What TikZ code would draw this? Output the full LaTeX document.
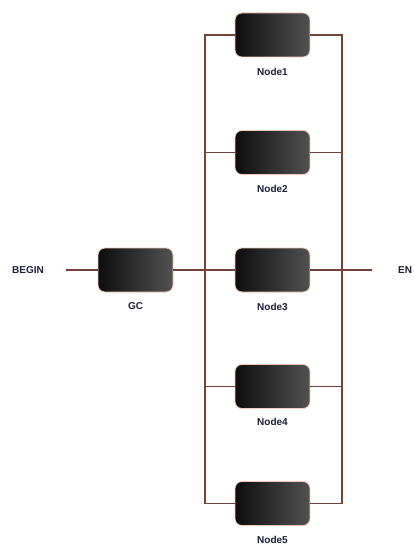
\documentclass[tikz,border=0pt]{standalone}
\usepackage{fontspec}
\setmainfont{Liberation Sans}
\usetikzlibrary{calc}
\definecolor{wire}{HTML}{72413A}
\definecolor{halo}{HTML}{F2C9BA}
\definecolor{labelc}{HTML}{1E1E34}
\tikzset{
  block/.style={rounded corners=7pt, minimum width=75pt, minimum height=44pt,
    inner sep=0pt, draw=halo, line width=0.8pt,
    left color=black!95, right color=black!68},
  caption/.style={font=\bfseries\fontsize{10}{12}\selectfont, text=labelc, inner sep=1pt},
  wireline/.style={draw=wire, line width=1.3pt},
}
\begin{document}
\begin{tikzpicture}[x=1pt, y=-1pt]
  \useasboundingbox (0,0) rectangle (414,545);
  \fill[white] (0,0) rectangle (414,545);

  % blocks
  \node[block] (gc) at (135.5,270) {};
  \node[block] (n1) at (272.5,35) {};
  \node[block] (n2) at (272.5,152.5) {};
  \node[block] (n3) at (272.5,270) {};
  \node[block] (n4) at (272.5,386.5) {};
  \node[block] (n5) at (272.5,503.5) {};

  % captions under the blocks
  \node[caption] (gct) at (135.5,306) {GC};
  \node[caption] (n1t) at (272.5,72) {Node1};
  \node[caption] (n2t) at (272.5,189) {Node2};
  \node[caption] (n3t) at (272.5,307) {Node3};
  \node[caption] (n4t) at (272.5,422) {Node4};
  \node[caption] (n5t) at (272.5,540) {Node5};

  % terminal labels
  \node[caption, anchor=west] (begin) at (11,270) {BEGIN};
  \node[caption, anchor=west] (end) at (397,270) {EN};

  % bus rails and wire ends
  \coordinate (L) at (205,0);
  \coordinate (R) at (342,0);
  \coordinate (bstart) at (66,270);
  \coordinate (estop) at (372,270);

  % input side
  \draw[wireline] (bstart) -- (gc.west);
  \draw[wireline] (gc.east) -- (n3.west);
  \draw[wireline] (n1.west) -| (L |- n5) -- (n5.west);
  \draw[wireline] (n2.west) -- (L |- n2);
  \draw[wireline] (n4.west) -- (L |- n4);

  % output side
  \draw[wireline] (n1.east) -| (R |- n5) -- (n5.east);
  \draw[wireline] (n2.east) -- (R |- n2);
  \draw[wireline] (n3.east) -- (R |- n3);
  \draw[wireline] (n4.east) -- (R |- n4);
  \draw[wireline] (R |- n3) -- (estop);
\end{tikzpicture}
\end{document}
